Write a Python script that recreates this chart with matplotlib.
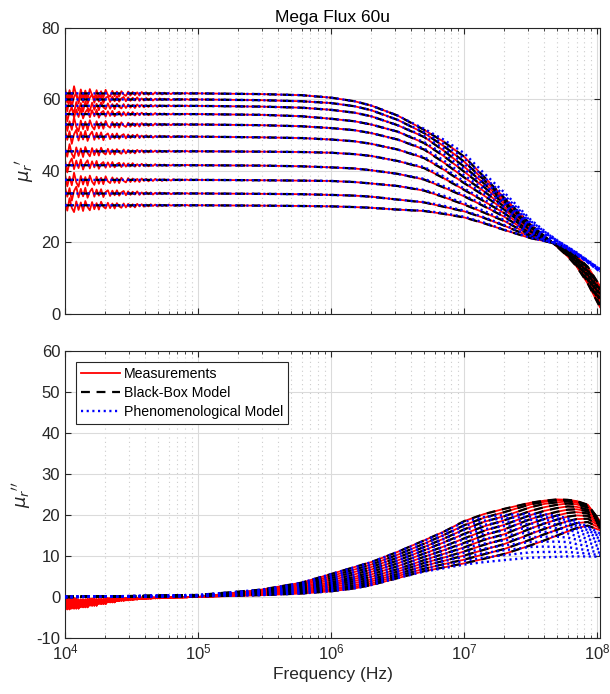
import numpy as np
import matplotlib
matplotlib.use("Agg")
import matplotlib.pyplot as plt
from matplotlib.ticker import LogLocator, NullFormatter, MultipleLocator
from matplotlib.lines import Line2D

plt.rcParams['font.family'] = ['Liberation Sans', 'DejaVu Sans']
plt.rcParams['mathtext.fontset'] = 'dejavusans'
plt.rcParams['axes.unicode_minus'] = False

# ---------------- data ----------------
freq = [1e4, 1e5, 3e5, 6e5, 1e6, 1.5e6, 2e6, 3.16e6, 5e6, 7e6,
        1e7, 1.4e7, 2e7, 3.16e7, 4e7, 5e7, 6e7, 7e7, 8.5e7, 1.05e8]

# real part mu_r' (measurement / black-box), one row per curve
mu_real = [
    [61.7, 61.7, 61.5, 61.2, 60.5, 59.5, 58.3, 55.5, 51.5, 48.2, 44.0, 38.5, 32.5, 25.0, 21.8, 18.8, 16.1, 13.3, 8.5, 1.9],
    [60.0, 60.0, 59.8, 59.5, 59.0, 58.1, 57.0, 54.3, 50.6, 47.0, 42.6, 37.6, 32.0, 24.8, 21.8, 18.9, 16.3, 13.6, 9.0, 2.5],
    [58.2, 58.2, 58.0, 57.7, 57.1, 56.3, 55.3, 52.8, 49.5, 45.7, 41.2, 36.6, 31.4, 24.5, 21.7, 19.0, 16.5, 13.9, 9.5, 3.1],
    [55.9, 55.9, 55.7, 55.3, 54.6, 53.9, 53.0, 51.0, 47.8, 44.2, 39.8, 35.6, 30.8, 24.2, 21.6, 19.1, 16.7, 14.2, 10.0, 3.7],
    [53.0, 53.0, 52.8, 52.5, 52.0, 51.4, 50.6, 48.8, 46.0, 42.4, 38.2, 34.4, 30.0, 23.8, 21.4, 19.2, 16.9, 14.5, 10.5, 4.3],
    [49.6, 49.6, 49.4, 49.2, 48.8, 48.3, 47.6, 46.0, 43.6, 40.4, 36.6, 33.2, 29.2, 23.4, 21.3, 19.2, 17.1, 14.8, 11.0, 4.9],
    [45.5, 45.5, 45.4, 45.3, 45.1, 44.7, 44.2, 42.8, 40.8, 38.0, 34.7, 31.6, 28.2, 23.0, 21.1, 19.3, 17.3, 15.1, 11.5, 5.5],
    [41.6, 41.6, 41.5, 41.3, 41.0, 40.7, 40.2, 39.2, 37.6, 35.4, 32.9, 30.2, 27.2, 22.5, 20.9, 19.4, 17.5, 15.4, 12.0, 6.1],
    [37.5, 37.5, 37.4, 37.3, 37.2, 36.9, 36.5, 35.8, 34.5, 32.7, 30.6, 28.4, 26.0, 22.0, 20.7, 19.5, 17.7, 15.7, 12.4, 6.7],
    [33.7, 33.7, 33.6, 33.5, 33.3, 33.1, 32.8, 32.0, 31.2, 30.0, 28.7, 26.9, 24.7, 21.6, 20.5, 19.5, 17.9, 16.0, 12.8, 7.2],
    [30.4, 30.4, 30.3, 30.2, 30.1, 29.9, 29.7, 29.2, 28.8, 28.0, 27.0, 25.4, 23.5, 21.2, 20.4, 19.6, 18.0, 16.2, 13.2, 7.8],
]
# phenomenological model, real part, from 5e6 upward (where it departs)
mu_real_phen_tail = [
    [51.8, 48.8, 45.0, 39.5, 34.0, 26.4, 23.3, 20.6, 18.8, 17.2, 15.0, 12.6],
    [50.9, 47.6, 43.5, 38.4, 33.2, 26.0, 23.1, 20.5, 18.7, 17.1, 14.9, 12.5],
    [49.8, 46.3, 42.0, 37.3, 32.4, 25.6, 22.8, 20.4, 18.6, 17.0, 14.8, 12.4],
    [48.1, 44.8, 40.5, 36.2, 31.6, 25.1, 22.5, 20.3, 18.5, 17.0, 14.8, 12.4],
    [46.3, 43.0, 38.8, 35.0, 30.7, 24.6, 22.2, 20.2, 18.5, 16.9, 14.7, 12.3],
    [43.9, 40.9, 37.1, 33.7, 29.8, 24.1, 21.9, 20.1, 18.4, 16.9, 14.7, 12.2],
    [41.1, 38.5, 35.1, 32.1, 28.7, 23.5, 21.5, 20.0, 18.3, 16.8, 14.6, 12.1],
    [37.8, 35.8, 33.2, 30.6, 27.6, 22.9, 21.2, 19.9, 18.3, 16.8, 14.6, 12.0],
    [34.7, 33.1, 31.0, 28.9, 26.3, 22.3, 20.9, 19.8, 18.2, 16.7, 14.5, 12.0],
    [31.3, 30.3, 28.9, 27.1, 24.9, 21.8, 20.6, 19.7, 18.2, 16.7, 14.5, 11.9],
    [28.9, 28.2, 27.2, 25.6, 23.6, 21.3, 20.4, 19.6, 18.1, 16.6, 14.4, 11.8],
]

# imaginary part mu_r'' (measurement / black-box)
mu_imag = [
    [0.0, 0.50, 1.80, 3.50, 5.6, 7.3, 8.5, 11.0, 13.8, 15.9, 18.5, 20.2, 21.5, 23.0, 23.5, 23.8, 23.7, 23.4, 22.5, 18.5],
    [0.0, 0.45, 1.60, 3.20, 5.1, 6.7, 7.9, 10.3, 13.0, 15.1, 17.5, 19.3, 20.7, 22.6, 23.2, 23.6, 23.6, 23.3, 22.3, 18.5],
    [0.0, 0.42, 1.50, 2.90, 4.6, 6.1, 7.3, 9.6, 12.2, 14.2, 16.5, 18.3, 19.7, 21.9, 22.7, 23.1, 23.3, 23.0, 22.1, 18.4],
    [0.0, 0.40, 1.35, 2.60, 4.1, 5.5, 6.7, 8.9, 11.4, 13.3, 15.4, 17.2, 18.7, 21.0, 21.9, 22.5, 22.8, 22.6, 21.8, 18.3],
    [0.0, 0.37, 1.20, 2.30, 3.6, 4.9, 6.1, 8.2, 10.6, 12.3, 14.3, 16.1, 17.6, 20.0, 21.0, 21.7, 22.1, 22.0, 21.3, 18.2],
    [0.0, 0.34, 1.05, 2.00, 3.2, 4.4, 5.5, 7.5, 9.8, 11.4, 13.2, 15.0, 16.5, 19.0, 20.0, 20.8, 21.3, 21.4, 20.9, 18.0],
    [0.0, 0.30, 0.90, 1.75, 2.8, 3.9, 4.9, 6.8, 9.0, 10.5, 12.1, 13.9, 15.3, 17.9, 19.0, 19.9, 20.5, 20.7, 20.4, 17.8],
    [0.0, 0.27, 0.78, 1.50, 2.4, 3.4, 4.3, 6.2, 8.3, 9.6, 11.1, 12.7, 14.1, 16.7, 17.9, 18.9, 19.6, 19.9, 19.8, 17.5],
    [0.0, 0.24, 0.65, 1.25, 2.0, 2.9, 3.8, 5.6, 7.6, 8.8, 10.1, 11.5, 12.9, 15.4, 16.6, 17.7, 18.5, 19.0, 19.1, 17.2],
    [0.0, 0.20, 0.55, 1.05, 1.7, 2.5, 3.3, 5.1, 6.9, 8.0, 9.1, 10.4, 11.7, 14.0, 15.3, 16.4, 17.3, 18.0, 18.3, 16.8],
    [0.0, 0.17, 0.45, 0.85, 1.4, 2.1, 2.9, 4.6, 6.3, 7.2, 8.2, 9.3, 10.5, 12.6, 13.8, 15.0, 16.0, 16.8, 17.4, 16.3],
]
# phenomenological model, imaginary part, from 5e6 upward
mu_imag_phen_tail = [
    [13.7, 15.8, 18.3, 19.5, 20.0, 20.3, 20.2, 19.8, 19.2, 18.4, 17.2, 15.5],
    [12.9, 15.0, 17.3, 18.6, 19.2, 19.6, 19.5, 19.2, 18.7, 17.9, 16.8, 15.1],
    [12.1, 14.1, 16.3, 17.6, 18.3, 18.8, 18.8, 18.5, 18.1, 17.3, 16.3, 14.7],
    [11.3, 13.2, 15.2, 16.5, 17.3, 17.9, 17.9, 17.7, 17.3, 16.6, 15.7, 14.2],
    [10.5, 12.2, 14.1, 15.4, 16.2, 16.9, 17.0, 16.8, 16.4, 15.8, 15.0, 13.6],
    [9.7, 11.3, 13.0, 14.2, 15.0, 15.8, 15.9, 15.8, 15.5, 14.9, 14.2, 13.0],
    [8.9, 10.4, 11.9, 13.0, 13.8, 14.6, 14.7, 14.7, 14.5, 14.0, 13.3, 12.3],
    [8.2, 9.5, 10.8, 11.8, 12.6, 13.4, 13.5, 13.5, 13.4, 12.9, 12.4, 11.6],
    [7.5, 8.7, 9.8, 10.7, 11.4, 12.2, 12.3, 12.2, 12.2, 11.8, 11.4, 10.8],
    [6.8, 7.8, 8.8, 9.6, 10.2, 10.9, 11.0, 11.0, 11.0, 10.8, 10.6, 10.2],
    [6.2, 7.0, 7.9, 8.5, 9.0, 9.6, 9.7, 9.8, 9.9, 9.9, 9.9, 9.8],
]

# low-frequency measurement scatter (hand read, 1e4 .. 1e5)
noise_real = [1.6, -1.8, 0.9, -1.5, 2.0, -0.7, -1.9, 1.1, -1.3, 0.8, -1.6, 1.2, -0.5, -1.4, 0.9,
              -1.1, 0.6, -1.2, 1.0, -0.4, -0.9, 0.7, -0.8, 0.5, -0.9, 0.6, -0.3, -0.7, 0.5, -0.6,
              0.4, -0.5, 0.3, -0.6, 0.4, -0.3, 0.3, -0.4, 0.2, -0.3, 0.3, -0.2, 0.2, -0.3, 0.2,
              -0.2, 0.1, -0.2, 0.2, -0.1, 0.1, -0.2, 0.1, -0.1, 0.1, -0.1, 0.1, -0.1, 0.0, 0.0]
noise_imag = [-2.4, -0.5, -3.0, -1.2, -2.6, -0.3, -2.8, -1.5, -2.0, -0.6, -2.5, -1.0, -1.8, -0.4, -2.1,
              -0.9, -1.5, -0.5, -1.7, -0.8, -1.2, -0.3, -1.3, -0.7, -1.0, -0.3, -0.9, -0.5, -0.8, -0.2,
              -0.7, -0.4, -0.6, -0.2, -0.5, -0.3, -0.5, -0.1, -0.4, -0.2, -0.3, -0.1, -0.3, -0.2, -0.2,
              -0.1, -0.2, 0.0, -0.1, -0.1, -0.1, 0.0, -0.1, 0.0, -0.1, 0.0, 0.0, 0.0, 0.0, 0.0]

labels = ["Measurements", "Black-Box Model", "Phenomenological Model"]
title = "Mega Flux 60u"

# ---------------- figure ----------------
fig = plt.figure(figsize=(6.10, 6.94), dpi=100)
ax1 = fig.add_axes([0.1066, 0.5476, 0.877, 0.4121])
ax2 = fig.add_axes([0.1066, 0.0807, 0.877, 0.4135])

f = np.array(freq)
nr = np.array(noise_real)
ni = np.array(noise_imag)
nlow = np.geomspace(1e4, 1e5, len(nr))
ntail_r = len(mu_real_phen_tail[0])
ntail_i = len(mu_imag_phen_tail[0])

RED_LW, BK_LW, BL_LW = 1.3, 1.6, 1.7
BK_DASH, BL_DASH = (4, 3), (0.9, 1.5)

for i in range(len(mu_real)):
    r = np.array(mu_real[i])
    im = np.array(mu_imag[i])
    sgn = 1 if i % 2 == 0 else -1
    sh = i % 4
    nri = sgn * np.concatenate([nr[sh:], np.zeros(sh)])
    nii = np.concatenate([ni[sh:], np.zeros(sh)])
    fx = np.concatenate([nlow, f[2:]])
    ax1.plot(fx, np.concatenate([r[0] + nri, r[2:]]), color='red', lw=RED_LW, zorder=2)
    ax2.plot(fx, np.concatenate([im[0] + nii, im[2:]]), color='red', lw=RED_LW, zorder=2)
    ax1.plot(f, r, color='black', lw=BK_LW, dashes=BK_DASH, zorder=3)
    ax2.plot(f, im, color='black', lw=BK_LW, dashes=BK_DASH, zorder=3)
    rp = np.concatenate([r[:-ntail_r], mu_real_phen_tail[i]])
    ip = np.concatenate([im[:-ntail_i], mu_imag_phen_tail[i]])
    ax1.plot(f, rp, color='blue', lw=BL_LW, dashes=BL_DASH, zorder=4)
    ax2.plot(f, ip, color='blue', lw=BL_LW, dashes=BL_DASH, zorder=4)

axis_col = (0.15, 0.15, 0.15)
for ax in (ax1, ax2):
    ax.set_xscale('log')
    ax.set_xlim(1e4, 1.05e8)
    ax.xaxis.set_major_locator(LogLocator(base=10, numticks=10))
    ax.xaxis.set_minor_locator(LogLocator(base=10, subs=np.arange(2, 10), numticks=20))
    ax.xaxis.set_minor_formatter(NullFormatter())
    ax.grid(True, which='major', color=(0.86, 0.86, 0.86), lw=0.8, ls='-')
    ax.grid(True, which='minor', axis='x', color=(0.80, 0.80, 0.80), lw=0.8, ls=(0, (1, 3)))
    ax.set_axisbelow(True)
    ax.tick_params(which='both', direction='in', top=True, right=True,
                   colors=axis_col, labelcolor=axis_col, labelsize=12)
    ax.tick_params(which='major', length=4, width=0.8)
    ax.tick_params(which='minor', length=2.5, width=0.6)
    for s in ax.spines.values():
        s.set_color(axis_col)
        s.set_linewidth(0.8)

ax1.set_ylim(0, 80)
ax1.yaxis.set_major_locator(MultipleLocator(20))
ax1.tick_params(labelbottom=False)
ax1.set_ylabel(r"$\mu_r{}'$", fontsize=13, labelpad=4, color=axis_col)
ax1.set_title(title, fontsize=12.5, pad=4, color='black')

ax2.set_ylim(-10, 60)
ax2.yaxis.set_major_locator(MultipleLocator(10))
ax2.set_ylabel(r"$\mu_r{}''$", fontsize=13, labelpad=2, color=axis_col)
ax2.set_xlabel("Frequency (Hz)", fontsize=12.5, labelpad=3, color=axis_col)

handles = [Line2D([], [], color='red', lw=RED_LW),
           Line2D([], [], color='black', lw=BK_LW, dashes=BK_DASH),
           Line2D([], [], color='blue', lw=BL_LW, dashes=BL_DASH)]
leg = ax2.legend(handles, labels, loc='upper left', bbox_to_anchor=(0.0206, 0.962),
                 borderaxespad=0, fontsize=10.2, frameon=True, fancybox=False,
                 framealpha=1, edgecolor=axis_col, handlelength=2.75,
                 handletextpad=0.3, labelspacing=0.35, borderpad=0.35)
leg.get_frame().set_linewidth(0.8)

fig.savefig("out.png", dpi=100)
